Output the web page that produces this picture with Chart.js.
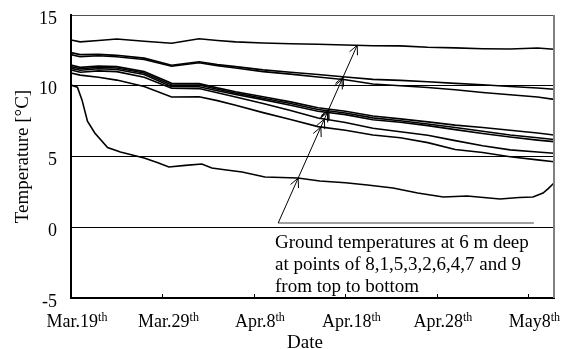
<!DOCTYPE html>
<html>
<head>
<meta charset="utf-8">
<script src="https://cdn.jsdelivr.net/npm/chart.js@4.4.1/dist/chart.umd.min.js"></script>
<style>
  body { margin: 0; background: #fff; }
  #wrap { width: 566px; height: 349px; position: relative; }
</style>
</head>
<body>
<div id="wrap"><canvas id="myChart"></canvas></div>
<script>
// Days counted from Mar.19
const days = [0, 1, 3, 5, 8, 11, 14, 16, 18, 21, 24, 27, 30, 33, 36, 39, 42, 45, 48, 51, 52.8]

// Ground temperatures at 6 m deep, top to bottom: points 8,1,5,3,2,6,4,7
const point8 = [13.23, 13.1, 13.2, 13.3, 13.15, 13.0, 13.32, 13.2, 13.1, 13.02, 12.97, 12.93, 12.88, 12.83, 12.82, 12.72, 12.68, 12.62, 12.6, 12.67, 12.58]
const point1 = [12.34, 12.2, 12.22, 12.15, 11.95, 11.45, 11.7, 11.5, 11.35, 11.12, 10.95, 10.8, 10.62, 10.45, 10.38, 10.28, 10.17, 10.07, 9.95, 9.84, 9.75]
const point5 = [12.2, 12.05, 12.12, 12.05, 11.85, 11.38, 11.62, 11.42, 11.25, 11.0, 10.82, 10.62, 10.42, 10.12, 10.0, 9.88, 9.72, 9.52, 9.36, 9.2, 9.04]
const point3 = [11.47, 11.3, 11.4, 11.35, 11.0, 10.17, 10.15, 9.85, 9.58, 9.22, 8.86, 8.45, 8.2, 7.86, 7.66, 7.45, 7.22, 7.05, 6.86, 6.66, 6.52]
const point2 = [11.35, 11.2, 11.3, 11.25, 10.9, 10.05, 10.05, 9.75, 9.48, 9.12, 8.74, 8.32, 8.08, 7.73, 7.53, 7.3, 7.05, 6.78, 6.52, 6.32, 6.2]
const point6 = [11.23, 11.1, 11.2, 11.15, 10.8, 9.93, 9.93, 9.65, 9.38, 9.02, 8.62, 8.2, 7.96, 7.6, 7.42, 7.18, 6.9, 6.62, 6.38, 6.16, 6.05]
const point4 = [11.11, 10.95, 11.05, 11.0, 10.6, 9.82, 9.8, 9.5, 9.2, 8.75, 8.25, 7.72, 7.4, 7.0, 6.75, 6.5, 6.12, 5.76, 5.47, 5.32, 5.23]
const point7 = [10.9, 10.75, 10.6, 10.4, 9.95, 9.2, 9.22, 8.95, 8.62, 8.1, 7.62, 7.11, 6.86, 6.52, 6.32, 5.98, 5.5, 5.28, 4.98, 4.76, 4.63]

// point 9 drops fast at the start, so it has its own days
const days9 = [0, 0.7, 1.2, 1.8, 2.6, 4, 5.4, 6.7, 8, 9.5, 10.7, 12.5, 14.3, 15.4, 17, 18.7, 21.2, 23, 24.8, 27.2, 30, 32.4, 35.2, 37.9, 40.7, 43.3, 46.9, 49, 50.5, 51.6, 52.2, 52.8]
const point9 = [10.05, 9.9, 9.0, 7.5, 6.66, 5.64, 5.32, 5.11, 4.89, 4.55, 4.26, 4.37, 4.47, 4.19, 4.05, 3.9, 3.55, 3.52, 3.48, 3.27, 3.15, 2.99, 2.77, 2.42, 2.14, 2.21, 2.0, 2.1, 2.14, 2.42, 2.75, 3.13]

const seriesNames = ['8', '1', '5', '3', '2', '6', '4', '7', '9']
const seriesValues = [point8, point1, point5, point3, point2, point6, point4, point7, point9]

// axis labels
const xTickDays = [0, 10, 20, 30, 40, 50]
const xTickMain = ['Mar.19', 'Mar.29', 'Apr.8', 'Apr.18', 'Apr.28', 'May8']
const xTickSup = 'th'
const xTitle = 'Date'
const yTitle = 'Temperature [°C]'

// note + arrows (data units)
const noteLines = ['Ground temperatures at 6 m deep', 'at points of 8,1,5,3,2,6,4,7 and 9', 'from top to bottom']
const arrowFrom = [22.65, 0.3]
const arrowTo = [31.3, 12.88]
const baseLineEnd = 50.6

const serif = "'Liberation Serif', 'Times New Roman', serif"

function toXY(xs, ys) {
    return ys.map((v, i) => ({ x: xs[i], y: v }))
}

const datasets = seriesValues.map((vals, i) => ({
    label: 'Point ' + seriesNames[i],
    data: toXY(i === 8 ? days9 : days, vals),
    borderColor: '#000',
    borderWidth: 1.6,
    pointRadius: 0,
    tension: 0,
    fill: false
}))

function segHit(ax, ay, bx, by, cx, cy, dx, dy) {
    const rx = bx - ax, ry = by - ay, sx = dx - cx, sy = dy - cy
    const den = rx * sy - ry * sx
    if (Math.abs(den) < 1e-9) return null
    const t = ((cx - ax) * sy - (cy - ay) * sx) / den
    const u = ((cx - ax) * ry - (cy - ay) * rx) / den
    if (t < 0 || t > 1.03 || u < 0 || u > 1) return null
    return { x: ax + t * rx, y: ay + t * ry }
}

const extras = {
    id: 'extras',
    afterDraw(chart) {
        const { ctx, chartArea, scales: { x, y } } = chart
        ctx.save()

        // right frame line
        ctx.strokeStyle = '#808080'
        ctx.lineWidth = 2
        ctx.beginPath()
        ctx.moveTo(chartArea.right, chartArea.top)
        ctx.lineTo(chartArea.right, chartArea.bottom)
        ctx.stroke()

        // small tick marks on the date axis (inside)
        ctx.strokeStyle = '#000'
        ctx.lineWidth = 1
        xTickDays.forEach(d => {
            const px = Math.round(x.getPixelForValue(d)) + 0.5
            ctx.beginPath()
            ctx.moveTo(px, chartArea.bottom)
            ctx.lineTo(px, chartArea.bottom - 4)
            ctx.stroke()
        })

        // gray base line and the arrow line
        const x0 = x.getPixelForValue(arrowFrom[0]), y0 = y.getPixelForValue(arrowFrom[1])
        const x1 = x.getPixelForValue(arrowTo[0]), y1 = y.getPixelForValue(arrowTo[1])
        ctx.strokeStyle = '#808080'
        ctx.lineWidth = 1.5
        ctx.beginPath()
        ctx.moveTo(x0, y0)
        ctx.lineTo(x.getPixelForValue(baseLineEnd), y0)
        ctx.stroke()

        ctx.strokeStyle = '#000'
        ctx.lineWidth = 1
        ctx.beginPath()
        ctx.moveTo(x0, y0)
        ctx.lineTo(x1, y1)
        ctx.stroke()

        // arrow heads where the line meets every series
        chart.data.datasets.forEach((ds, i) => {
            const pts = chart.getDatasetMeta(i).data
            for (let k = 1; k < pts.length; k++) {
                const hit = segHit(x0, y0, x1, y1, pts[k - 1].x, pts[k - 1].y, pts[k].x, pts[k].y)
                if (hit) {
                    const ang = Math.atan2(y0 - hit.y, x0 - hit.x)
                    ctx.beginPath()
                    for (const s of [-0.45, 0.45]) {
                        ctx.moveTo(hit.x, hit.y)
                        ctx.lineTo(hit.x + 10 * Math.cos(ang + s), hit.y + 10 * Math.sin(ang + s))
                    }
                    ctx.stroke()
                    break
                }
            }
        })

        // note text
        ctx.fillStyle = '#000'
        ctx.font = '19px ' + serif
        ctx.textAlign = 'left'
        ctx.textBaseline = 'alphabetic'
        noteLines.forEach((t, i) => ctx.fillText(t, 275, 248 + i * 22))

        // date labels with superscript
        xTickDays.forEach((d, i) => {
            ctx.font = '18px ' + serif
            const w1 = ctx.measureText(xTickMain[i]).width
            ctx.font = '12px ' + serif
            const w2 = ctx.measureText(xTickSup).width
            const cx = x.getPixelForValue(d) + 6
            const left = cx - (w1 + w2) / 2
            ctx.font = '18px ' + serif
            ctx.fillText(xTickMain[i], left, 327)
            ctx.font = '12px ' + serif
            ctx.fillText(xTickSup, left + w1, 321)
        })

        // axis title
        ctx.font = '19px ' + serif
        ctx.textAlign = 'center'
        ctx.fillText(xTitle, 305, 348)

        ctx.restore()
    }
}

const ctx = document.getElementById('myChart')

new Chart(ctx, {
    type: 'line',
    data: { datasets },
    options: {
        responsive: true,
        maintainAspectRatio: false,
        animation: false,
        layout: { padding: { left: 0, top: 15, right: 12, bottom: 0 } },
        plugins: {
            legend: { display: false },
            tooltip: { enabled: false }
        },
        scales: {
            x: {
                type: 'linear',
                min: 0,
                max: 52.8,
                ticks: { display: false },
                grid: { display: false },
                border: { color: '#000', width: 2 },
                afterFit(scale) {
                    scale.height = 51
                    scale.paddingLeft = 0
                    scale.paddingRight = 0
                }
            },
            y: {
                min: -5,
                max: 15,
                ticks: {
                    stepSize: 5,
                    color: '#000',
                    padding: 14,
                    labelOffset: 4,
                    font: { family: serif, size: 18 }
                },
                grid: {
                    drawTicks: false,
                    lineWidth: 1,
                    color: c => (c.tick && c.tick.value === 15) ? '#505050' : '#000'
                },
                border: { color: '#000', width: 2 },
                title: {
                    display: true,
                    text: yTitle,
                    color: '#000',
                    font: { family: serif, size: 19 },
                    padding: { top: 12, bottom: 0 }
                },
                afterFit(scale) {
                    scale.width = 71
                    scale.paddingTop = 0
                    scale.paddingBottom = 0
                }
            }
        }
    },
    plugins: [extras]
})
</script>
</body>
</html>
